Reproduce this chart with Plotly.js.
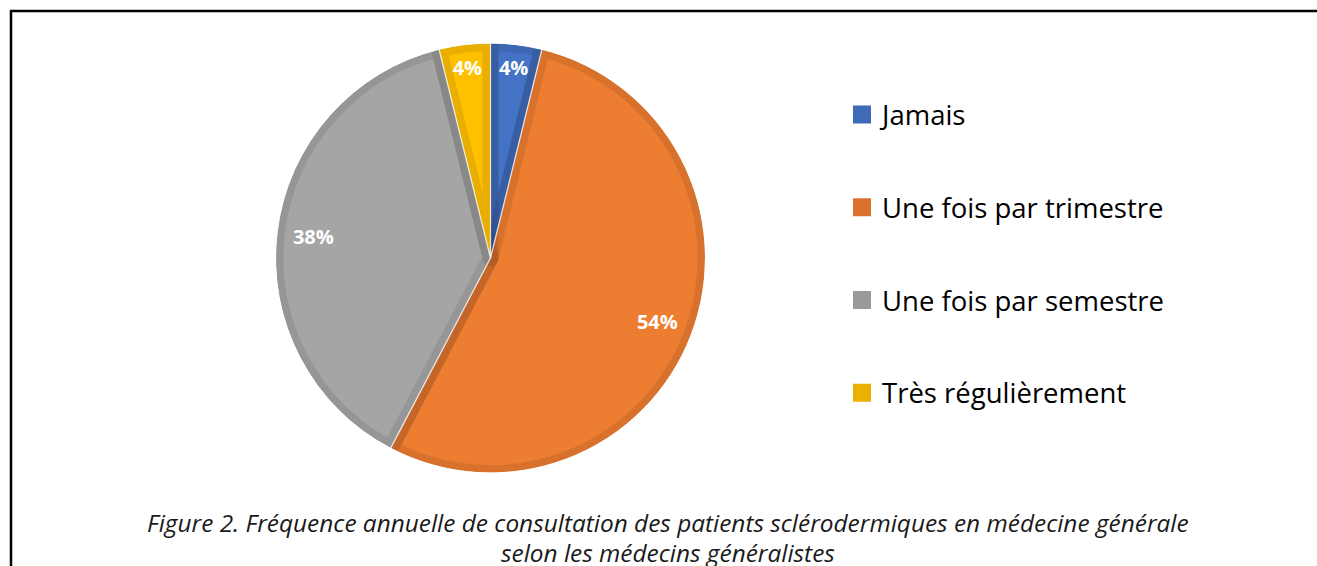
<!DOCTYPE html>
<html>
<head>
<meta charset="utf-8">
<script src="https://cdn.plot.ly/plotly-3.0.1.min.js"></script>
<style>html,body{margin:0;padding:0;background:#fff;}#chart{width:1317px;height:566px;}</style>
</head>
<body>
<div id="chart"></div>
<script>
// ---- data ----
const categories = ["Jamais", "Une fois par trimestre", "Une fois par semestre", "Très régulièrement"];
const counts = [1, 14, 10, 1];
const fillColors = ["#4472C4", "#ED7D31", "#A5A5A5", "#FFC000"];
const legendColors = ["#3F6AB8", "#DA722E", "#999999", "#EBB000"];
const captionLines = [
  "Figure 2. Fréquence annuelle de consultation des patients sclérodermiques en médecine générale",
  "selon les médecins généralistes"
];

// ---- layout helpers ----
const W = 1317, H = 566;
const cx = 490.5, cy = 258, R = 215;
function dom(r) {
  return { x: [(cx - r) / W, (cx + r) / W], y: [1 - (cy + r) / H, 1 - (cy - r) / H] };
}
const clear4 = ["rgba(0,0,0,0)", "rgba(0,0,0,0)", "rgba(0,0,0,0)", "rgba(0,0,0,0)"];
const white4 = ["#ffffff", "#ffffff", "#ffffff", "#ffffff"];
const common = { values: counts, labels: categories, sort: false, direction: "clockwise", rotation: 0,
  showlegend: false, hoverinfo: "skip", textinfo: "none" };

const traces = [
  // slices with a darker inner edge (semi-transparent dark stroke)
  Object.assign({}, common, { type: "pie", domain: dom(R),
    marker: { colors: fillColors, line: { color: "rgba(0,0,0,0.09)", width: 16 } } }),
  // white ring hiding the outer half of the stroke
  Object.assign({}, common, { type: "pie", domain: dom(R + 12), hole: R / (R + 12),
    marker: { colors: white4, line: { color: "#ffffff", width: 1 } } }),
  // thin light separators between slices
  Object.assign({}, common, { type: "pie", domain: dom(R),
    marker: { colors: clear4, line: { color: "rgba(255,255,255,0.5)", width: 1.2 } } }),
  // percentage labels
  Object.assign({}, common, { type: "pie", domain: dom(R), hole: 0.66,
    marker: { colors: clear4, line: { width: 0 } },
    textinfo: "percent", texttemplate: "<b>%{percent:.0%}</b>", textposition: "inside",
    insidetextorientation: "horizontal",
    textfont: { family: "Open Sans, sans-serif", size: 20, color: "#ffffff" } })
];

// legend entries (one group each so the spacing can be set)
categories.forEach((c, i) => {
  traces.push({ type: "scatter", x: [null], y: [null], mode: "markers", name: c,
    legendgroup: "g" + i, showlegend: true, hoverinfo: "skip",
    marker: { symbol: "square", size: 16, color: legendColors[i], line: { color: legendColors[i], width: 2 } } });
});

const layout = {
  width: W, height: H,
  margin: { l: 0, r: 0, t: 0, b: 0 },
  paper_bgcolor: "#ffffff", plot_bgcolor: "#ffffff",
  xaxis: { visible: false, fixedrange: true },
  yaxis: { visible: false, fixedrange: true },
  showlegend: true,
  legend: { x: 842 / W, y: 1 - 90 / H, xanchor: "left", yanchor: "top",
    font: { family: "Open Sans, sans-serif", size: 27.5, color: "#000000" },
    tracegroupgap: 54, bgcolor: "rgba(0,0,0,0)" },
  shapes: [{ type: "rect", xref: "paper", yref: "paper", x0: 11 / W, x1: 1.05, y0: -0.05, y1: 1 - 11 / H,
    line: { color: "#000000", width: 2.5 }, fillcolor: "rgba(0,0,0,0)" }],
  annotations: [
    { text: captionLines[0], xref: "paper", yref: "paper", x: 668 / W, y: 1 - 522 / H, xanchor: "center", yanchor: "middle",
      showarrow: false, font: { family: "Open Sans, sans-serif", size: 24.4, style: "italic", color: "#1a1a1a" } },
    { text: captionLines[1], xref: "paper", yref: "paper", x: 668 / W, y: 1 - 552 / H, xanchor: "center", yanchor: "middle",
      showarrow: false, font: { family: "Open Sans, sans-serif", size: 24.4, style: "italic", color: "#1a1a1a" } }
  ]
};

Plotly.newPlot("chart", traces, layout, { staticPlot: true, displayModeBar: false });
</script>
</body>
</html>
